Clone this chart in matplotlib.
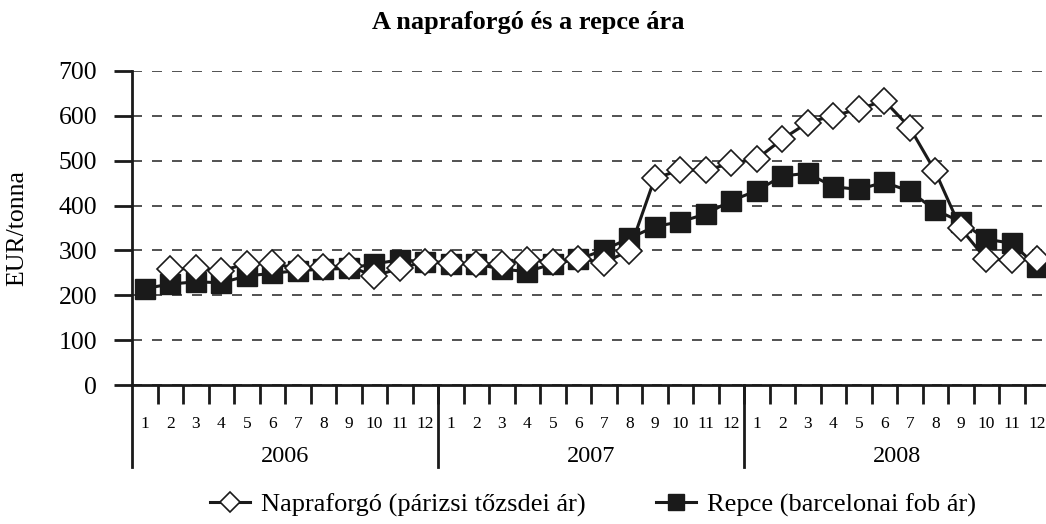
import numpy as np
import matplotlib
matplotlib.use('Agg')
import matplotlib.pyplot as plt

plt.rcParams['font.family'] = ['Liberation Serif', 'DejaVu Serif']

# adatok (EUR/tonna), 2006.01 - 2008.12
years = ['2006', '2007', '2008']
months = [str(m) for m in range(1, 13)]
napraforgo = [np.nan, 258, 260, 255, 270, 271, 260, 264, 265, 243, 260, 275,
              273, 270, 270, 279, 275, 282, 273, 299, 461, 479, 479, 494,
              504, 548, 585, 600, 615, 634, 574, 476, 349, 280, 279, 280]
repce = [215, 225, 230, 228, 243, 249, 255, 258, 260, 270, 279, 275,
         270, 270, 258, 253, 270, 280, 301, 327, 353, 364, 381, 411,
         433, 466, 472, 442, 436, 452, 432, 390, 364, 325, 316, 264]

n = len(repce)
x = np.arange(n) + 0.5

fig = plt.figure(figsize=(10.46, 5.24), dpi=100)
ax = fig.add_axes([132/1046, 1-385/524, 918/1046, 314/524])

ax.plot(x, napraforgo, color='#1a1a1a', lw=2.2, marker='D', ms=13,
        mfc='white', mec='#1a1a1a', mew=1.2, label='Napraforgó (párizsi tőzsdei ár)', zorder=3)
ax.plot(x, repce, color='#1a1a1a', lw=2.2, marker='s', ms=14,
        mfc='#1a1a1a', mec='#1a1a1a', label='Repce (barcelonai fob ár)', zorder=2)

ax.set_xlim(0, n)
ax.set_ylim(0, 700)
ax.set_yticks(range(0, 701, 100))
ax.yaxis.grid(True, linestyle=(0, (6, 6)), color='#333333', lw=1.2)
ax.set_axisbelow(True)
for s in ['top', 'right']:
    ax.spines[s].set_visible(False)
ax.spines['left'].set_linewidth(2)
ax.spines['bottom'].set_linewidth(2)
ax.spines['left'].set_color('#1a1a1a')
ax.spines['bottom'].set_color('#1a1a1a')
ax.tick_params(axis='y', length=13, width=2, color='#1a1a1a', labelsize=18.5, pad=12)

ax.set_xticks(np.arange(1, n))
ax.set_xticklabels([])
ax.tick_params(axis='x', length=14, width=2, color='#1a1a1a')

# honapok es evek
trans = ax.get_xaxis_transform()
for i in range(n):
    ax.text(x[i], -0.124, months[i % 12], transform=trans, ha='center', va='center', fontsize=12.5)
for k, yr in enumerate(years):
    ax.text(12*k + 6, -0.229, yr, transform=trans, ha='center', va='center', fontsize=17.5)
for b in [0, 12, 24]:
    ax.plot([b, b], [0, -0.261], transform=trans, color='#1a1a1a', lw=2, clip_on=False)

fig.text(17/1046, 1-228/524, 'EUR/tonna', rotation=90, ha='center', va='center', fontsize=18.5)

fig.text(528/1046, 1-23/524, 'A napraforgó és a repce ára', ha='center', va='center',
         fontsize=19, fontweight='bold')

fig.legend(loc='center', bbox_to_anchor=(593/1046, 1-505/524), ncol=2, frameon=False,
           fontsize=19, handlelength=1.5, handletextpad=0.4, columnspacing=2.7, markerscale=0.8)

fig.savefig('out.png', dpi=100)
